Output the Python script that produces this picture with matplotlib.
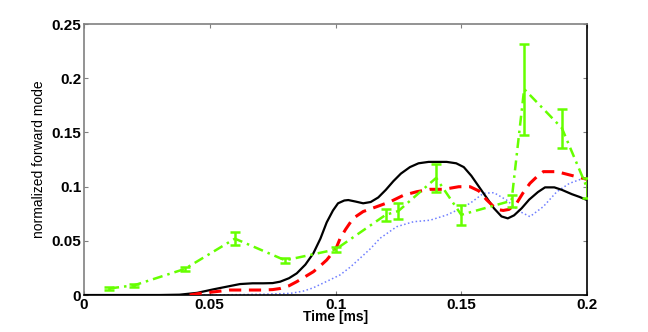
import matplotlib
matplotlib.use("Agg")
import matplotlib.pyplot as plt

# black solid curve
t_black = [0, 0.03, 0.038, 0.045, 0.0514, 0.057, 0.062, 0.067, 0.0713, 0.075, 0.078,
           0.0815, 0.0846, 0.088, 0.0912, 0.094, 0.0965, 0.099, 0.101, 0.1035, 0.1051,
           0.108, 0.111, 0.114, 0.117, 0.12, 0.123, 0.126, 0.1296, 0.133, 0.137, 0.1442,
           0.148, 0.151, 0.154, 0.157, 0.16, 0.163, 0.166, 0.1685, 0.171, 0.174, 0.177,
           0.1805, 0.1833, 0.187, 0.19, 0.194, 0.197, 0.2]
y_black = [0, 0, 0.0003, 0.002, 0.0052, 0.0078, 0.0101, 0.0108, 0.0108, 0.011, 0.0123,
           0.0155, 0.02, 0.028, 0.0385, 0.052, 0.067, 0.078, 0.0846, 0.0872, 0.0876,
           0.0862, 0.0846, 0.0858, 0.09, 0.097, 0.105, 0.112, 0.118, 0.1215, 0.1228, 0.1228,
           0.1215, 0.118, 0.11, 0.1, 0.09, 0.08, 0.0725, 0.0707, 0.0735, 0.08, 0.088,
           0.095, 0.0993, 0.0993, 0.097, 0.093, 0.0905, 0.0876]

# red dashed curve
t_red = [0.042, 0.046, 0.052, 0.058, 0.065, 0.0713, 0.075, 0.078, 0.0815, 0.0846, 0.088,
         0.0912, 0.094, 0.0965, 0.099, 0.1005, 0.1018, 0.104, 0.107, 0.111, 0.1164, 0.1217,
         0.127, 0.1323, 0.1376, 0.143, 0.149, 0.1535, 0.157, 0.16, 0.164, 0.1667, 0.169,
         0.172, 0.1745, 0.1773, 0.18, 0.1826, 0.188, 0.1932, 0.2]
y_red = [0, 0.0015, 0.003, 0.0046, 0.0046, 0.0046, 0.005, 0.006, 0.0085, 0.0123, 0.017,
         0.0215, 0.027, 0.0323, 0.0395, 0.0446, 0.052, 0.0605, 0.0707, 0.077, 0.0815, 0.086,
         0.092, 0.0953, 0.0975, 0.0975, 0.0999, 0.0999, 0.096, 0.088, 0.079, 0.078, 0.079,
         0.0846, 0.094, 0.103, 0.109, 0.1138, 0.1138, 0.1107, 0.1067]

# blue dotted curve
t_blue = [0.046, 0.06, 0.071, 0.082, 0.087, 0.091, 0.096, 0.1018, 0.106, 0.1097, 0.114,
          0.1177, 0.1243, 0.131, 0.1376, 0.1442, 0.149, 0.1535, 0.1588, 0.163, 0.168,
          0.1734, 0.1773, 0.1826, 0.188, 0.193, 0.1985, 0.2]
y_blue = [0, 0.0003, 0.0007, 0.0015, 0.0035, 0.0065, 0.012, 0.0185, 0.026, 0.0338, 0.043,
          0.0523, 0.063, 0.0676, 0.069, 0.0738, 0.079, 0.0846, 0.0938, 0.0944, 0.0876,
          0.0769, 0.0723, 0.0815, 0.0953, 0.103, 0.1076, 0.108]

# green measured points with error bars
t_green = [0.01, 0.02, 0.04, 0.06, 0.08, 0.1, 0.12, 0.125, 0.14, 0.15, 0.17, 0.175, 0.19, 0.2]
y_green = [0.006, 0.009, 0.024, 0.052, 0.032, 0.042, 0.074, 0.0775, 0.108, 0.074, 0.087,
           0.19, 0.154, 0.099]
e_green = [0.001, 0.0012, 0.0015, 0.006, 0.0022, 0.0025, 0.0057, 0.0077, 0.013, 0.0092,
           0.0057, 0.042, 0.018, 0.0092]

fig = plt.figure(figsize=(6.48, 3.32), dpi=100)
ax = fig.add_axes([0.1296, 0.1114, 0.7763, 0.8163])

ax.plot(t_black, y_black, color='black', lw=1.6, zorder=3)
ax.plot(t_red, y_red, color='red', lw=2.2, dashes=(4, 2.5), zorder=3)
ax.plot(t_blue, y_blue, color='#6f7fff', lw=1.1, dashes=(1, 1.6), zorder=2)
ax.errorbar(t_green, y_green, yerr=e_green, color='#66ff00', lw=1.8,
            dashes=(4, 2, 1, 2), elinewidth=1.8, capsize=3.5, capthick=1.8, zorder=4)

ax.set_xlim(0, 0.2)
ax.set_ylim(0, 0.25)
ax.set_xticks([0, 0.05, 0.1, 0.15, 0.2])
ax.set_xticklabels(['0', '0.05', '0.1', '0.15', '0.2'])
ax.set_yticks([0, 0.05, 0.1, 0.15, 0.2, 0.25])
ax.set_yticklabels(['0', '0.05', '0.1', '0.15', '0.2', '0.25'])

ax.tick_params(direction='in', length=3, color='#808080', top=True, right=True,
               labelsize=11, pad=2)
for lab in ax.get_xticklabels() + ax.get_yticklabels():
    lab.set_fontweight('bold')
    lab.set_family(['Liberation Sans', 'DejaVu Sans'])

ax.spines['left'].set_color('#808080')
ax.spines['top'].set_color('#808080')
ax.spines['right'].set_color('black')
ax.spines['bottom'].set_color('black')
for s in ax.spines.values():
    s.set_linewidth(1.2)

ax.set_xlabel('Time [ms]', fontsize=10, fontweight='bold',
              family=['Liberation Sans', 'DejaVu Sans'], labelpad=-1)
ax.set_ylabel('normalized forward mode', fontsize=10,
              family=['Liberation Sans Narrow', 'Liberation Sans', 'DejaVu Sans'], labelpad=4)

fig.savefig('out.png', dpi=100)
